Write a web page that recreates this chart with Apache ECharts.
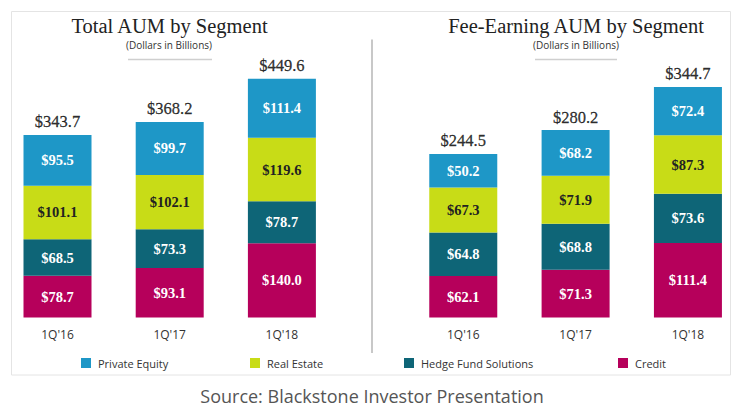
<!DOCTYPE html>
<html>
<head>
<meta charset="utf-8">
<script src="https://cdn.jsdelivr.net/npm/echarts@6/dist/echarts.min.js"></script>
<style>
html,body{margin:0;padding:0;background:#fff;}
#c{width:745px;height:413px;}
</style>
</head>
<body>
<div id="c"></div>
<script>
const categories = ["1Q'16", "1Q'17", "1Q'18"];
const segments = ["Private Equity", "Real Estate", "Hedge Fund Solutions", "Credit"];

// Total AUM (left)
const totalCredit = [78.7, 93.1, 140.0];
const totalHedge = [68.5, 73.3, 78.7];
const totalRealEstate = [101.1, 102.1, 119.6];
const totalPrivateEquity = [95.5, 99.7, 111.4];
const totalSums = [343.7, 368.2, 449.6];

// Fee-Earning AUM (right)
const feeCredit = [62.1, 71.3, 111.4];
const feeHedge = [64.8, 68.8, 73.6];
const feeRealEstate = [67.3, 71.9, 87.3];
const feePrivateEquity = [50.2, 68.2, 72.4];
const feeSums = [244.5, 280.2, 344.7];

const colors = {
  "Private Equity": "#1e97c7",
  "Real Estate": "#c8dc17",
  "Hedge Fund Solutions": "#0e6577",
  "Credit": "#b6005b"
};

const serif = "'Liberation Serif', 'DejaVu Serif', serif";
const sans = "'Open Sans', 'Noto Sans', sans-serif";

function seg(name, data, gi, stack) {
  return {
    name: name, type: 'bar', stack: stack,
    xAxisIndex: gi, yAxisIndex: gi,
    barWidth: 68,
    data: data,
    itemStyle: { color: colors[name] },
    label: {
      show: true, position: 'inside',
      formatter: p => '$' + p.value.toFixed(1),
      fontFamily: serif, fontWeight: 'bold', fontSize: 14.5,
      color: name === 'Real Estate' ? '#222' : '#fff'
    }
  };
}
function totals(data, gi) {
  return {
    name: 'total' + gi, type: 'scatter',
    xAxisIndex: gi, yAxisIndex: gi,
    symbolSize: 1, itemStyle: { color: 'rgba(0,0,0,0)' },
    data: data, silent: true,
    label: {
      show: true, position: 'top', distance: 4,
      formatter: p => '$' + p.value.toFixed(1),
      fontFamily: serif, fontSize: 16.5, color: '#000',
      textBorderColor: '#000', textBorderWidth: 0.3
    }
  };
}

const chart = echarts.init(document.getElementById('c'), null, { renderer: 'svg' });

const legendPos = [81, 250, 404, 618];
const legends = segments.map((s, i) => ({
  data: [s], left: legendPos[i], top: 357.5, padding: 0,
  itemWidth: 10, itemHeight: 10, icon: 'rect', selectedMode: false,
  textStyle: { fontFamily: sans, fontSize: 11, color: '#333', padding: [0, 0, 0, 2] }
}));

const xAx = gi => ({
  type: 'category', gridIndex: gi, data: categories,
  axisLine: { show: false }, axisTick: { show: false },
  axisLabel: { fontFamily: sans, fontSize: 12, color: '#333', margin: 11 }
});

chart.setOption({
  animation: false,
  backgroundColor: '#fff',
  legend: legends,
  grid: [
    { left: 1.4, width: 336.6, top: 52, bottom: 95.5 },
    { left: 407.1, width: 337, top: 49.9, bottom: 95.5 }
  ],
  xAxis: [xAx(0), xAx(1)],
  yAxis: [
    { type: 'value', gridIndex: 0, min: 0, max: 500, show: false },
    { type: 'value', gridIndex: 1, min: 0, max: 400, show: false }
  ],
  graphic: [
    { type: 'rect', shape: { x: 11.5, y: 11.5, width: 719, height: 363.5 },
      style: { fill: 'none', stroke: '#e4e4e4', lineWidth: 1 }, silent: true, z: -1 },
    { type: 'line', shape: { x1: 372, y1: 39.5, x2: 372, y2: 353 },
      style: { stroke: '#c8c8c8', lineWidth: 2 }, silent: true },
    { type: 'line', shape: { x1: 128, y1: 59.5, x2: 212, y2: 59.5 },
      style: { stroke: '#cfcfcf', lineWidth: 1.5 }, silent: true },
    { type: 'line', shape: { x1: 535, y1: 59.5, x2: 617, y2: 59.5 },
      style: { stroke: '#cfcfcf', lineWidth: 1.5 }, silent: true },
    { type: 'text', x: 169.5, y: 26, silent: true,
      style: { text: 'Total AUM by Segment', font: '20.5px ' + serif, fill: '#222',
        textAlign: 'center', textVerticalAlign: 'middle' } },
    { type: 'text', x: 576, y: 26, silent: true,
      style: { text: 'Fee-Earning AUM by Segment', font: '20.5px ' + serif, fill: '#222',
        textAlign: 'center', textVerticalAlign: 'middle' } },
    { type: 'text', x: 169, y: 44.5, silent: true,
      style: { text: '(Dollars in Billions)', font: '10px ' + sans, fill: '#333',
        textAlign: 'center', textVerticalAlign: 'middle' } },
    { type: 'text', x: 576, y: 44.5, silent: true,
      style: { text: '(Dollars in Billions)', font: '10px ' + sans, fill: '#333',
        textAlign: 'center', textVerticalAlign: 'middle' } },
    { type: 'text', x: 372, y: 396, silent: true,
      style: { text: 'Source: Blackstone Investor Presentation', font: '18px ' + sans, fill: '#555',
        textAlign: 'center', textVerticalAlign: 'middle' } }
  ],
  series: [
    seg('Credit', totalCredit, 0, 'L'),
    seg('Hedge Fund Solutions', totalHedge, 0, 'L'),
    seg('Real Estate', totalRealEstate, 0, 'L'),
    seg('Private Equity', totalPrivateEquity, 0, 'L'),
    totals(totalSums, 0),
    seg('Credit', feeCredit, 1, 'R'),
    seg('Hedge Fund Solutions', feeHedge, 1, 'R'),
    seg('Real Estate', feeRealEstate, 1, 'R'),
    seg('Private Equity', feePrivateEquity, 1, 'R'),
    totals(feeSums, 1)
  ]
});
</script>
</body>
</html>
